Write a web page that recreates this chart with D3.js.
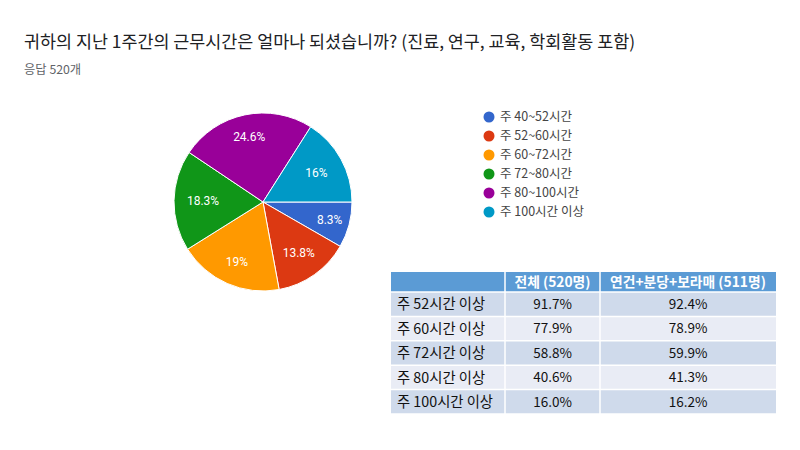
<!DOCTYPE html>
<html><head><meta charset="utf-8">
<script src="https://cdn.jsdelivr.net/npm/d3@7/dist/d3.min.js"></script>
<style>
html,body{margin:0;padding:0;background:#fff;}
svg{display:block;font-family:"Noto Sans CJK KR","Noto Sans",sans-serif;}
</style></head>
<body>
<svg id="chart" width="800" height="450"></svg>
<script>
const categories = ["주 40~52시간","주 52~60시간","주 60~72시간","주 72~80시간","주 80~100시간","주 100시간 이상"];
const values = [8.3, 13.8, 19, 18.3, 24.6, 16];
const valueLabels = ["8.3%","13.8%","19%","18.3%","24.6%","16%"];
const colors = ["#3366CC","#DC3912","#FF9900","#109618","#990099","#0099C6"];

const tableHeader = ["", "전체 (520명)", "연건+분당+보라매 (511명)"];
const tableRows = ["주 52시간 이상","주 60시간 이상","주 72시간 이상","주 80시간 이상","주 100시간 이상"];
const totalAll = ["91.7%","77.9%","58.8%","40.6%","16.0%"];
const totalSub = ["92.4%","78.9%","59.9%","41.3%","16.2%"];

const svg = d3.select("#chart");

svg.append("text").attr("x",24).attr("y",48)
  .attr("font-size",17.4).attr("fill","#202124")
  .text("귀하의 지난 1주간의 근무시간은 얼마나 되셨습니까? (진료, 연구, 교육, 학회활동 포함)");
svg.append("text").attr("x",24).attr("y",74)
  .attr("font-size",12.3).attr("fill","#5f6368")
  .text("응답 520개");

// Pie
const cx = 263, cy = 202, R = 89;
const pie = d3.pie().sort(null).value(d=>d)
  .startAngle(Math.PI/2).endAngle(Math.PI/2 + 2*Math.PI);
const arcs = pie(values);
const arc = d3.arc().innerRadius(0).outerRadius(R);
const g = svg.append("g").attr("transform",`translate(${cx},${cy})`);
g.selectAll("path").data(arcs).join("path")
  .attr("d",arc).attr("fill",(d,i)=>colors[i])
  .attr("stroke","#fff").attr("stroke-width",1);
const labelR = [69, 62, 65, 60, 67, 61];
g.selectAll("text.lbl").data(arcs).join("text")
  .attr("class","lbl")
  .attr("x",(d,i)=>Math.sin((d.startAngle+d.endAngle)/2)*labelR[i])
  .attr("y",(d,i)=>-Math.cos((d.startAngle+d.endAngle)/2)*labelR[i])
  .attr("dy","0.35em").attr("text-anchor","middle")
  .attr("font-size",12).attr("fill","#fff")
  .attr("font-family","Roboto, Arial, sans-serif")
  .text((d,i)=>valueLabels[i]);

// Legend
const lg = svg.append("g");
const ly = d3.scalePoint().domain(categories).range([117,212]);
categories.forEach((c,i)=>{
  lg.append("circle").attr("cx",489).attr("cy",ly(c)).attr("r",5.5).attr("fill",colors[i]);
  lg.append("text").attr("x",500).attr("y",ly(c)).attr("dy","0.35em")
    .attr("font-size",12.5).attr("fill","#444").text(c);
});

// Table
const colX = [391, 505, 600, 776];
const headerTop = 272, headerH = 20;
const rowY = d3.scaleBand().domain(tableRows).range([headerTop+headerH, 414]).padding(0);
const tg = svg.append("g");
tg.append("rect").attr("x",colX[0]).attr("y",headerTop).attr("width",colX[3]-colX[0]).attr("height",headerH).attr("fill","#5B9BD5");
tableHeader.forEach((h,j)=>{
  if(!h) return;
  tg.append("text").attr("x",(colX[j]+colX[j+1])/2).attr("y",headerTop+headerH/2)
    .attr("dy","0.36em").attr("text-anchor","middle").attr("fill","#fff")
    .attr("font-size",13.8).attr("font-weight","bold").text(h);
});
tableRows.forEach((r,i)=>{
  const y = rowY(r), h = rowY.bandwidth();
  tg.append("rect").attr("x",colX[0]).attr("y",y).attr("width",colX[3]-colX[0]).attr("height",h)
    .attr("fill", i%2===0 ? "#CFDAEB" : "#E9ECF5");
  tg.append("text").attr("x",colX[0]+6).attr("y",y+h/2).attr("dy","0.36em").attr("fill","#111")
    .attr("font-size",14.3).text(r);
  tg.append("text").attr("x",(colX[1]+colX[2])/2).attr("y",y+h/2).attr("dy","0.36em").attr("text-anchor","middle").attr("fill","#111")
    .attr("font-size",13.5).text(totalAll[i]);
  tg.append("text").attr("x",(colX[2]+colX[3])/2).attr("y",y+h/2).attr("dy","0.36em").attr("text-anchor","middle").attr("fill","#111")
    .attr("font-size",13.5).text(totalSub[i]);
});
const lines = [headerTop+headerH, ...tableRows.map(r=>rowY(r)+rowY.bandwidth())];
lines.forEach(y=>{
  tg.append("line").attr("x1",colX[0]).attr("x2",colX[3]).attr("y1",y).attr("y2",y).attr("stroke","#fff").attr("stroke-width",1.5);
});
[colX[1],colX[2]].forEach(x=>{
  tg.append("line").attr("x1",x).attr("x2",x).attr("y1",headerTop).attr("y2",414).attr("stroke","#fff").attr("stroke-width",1.5);
});
</script>
</body></html>
